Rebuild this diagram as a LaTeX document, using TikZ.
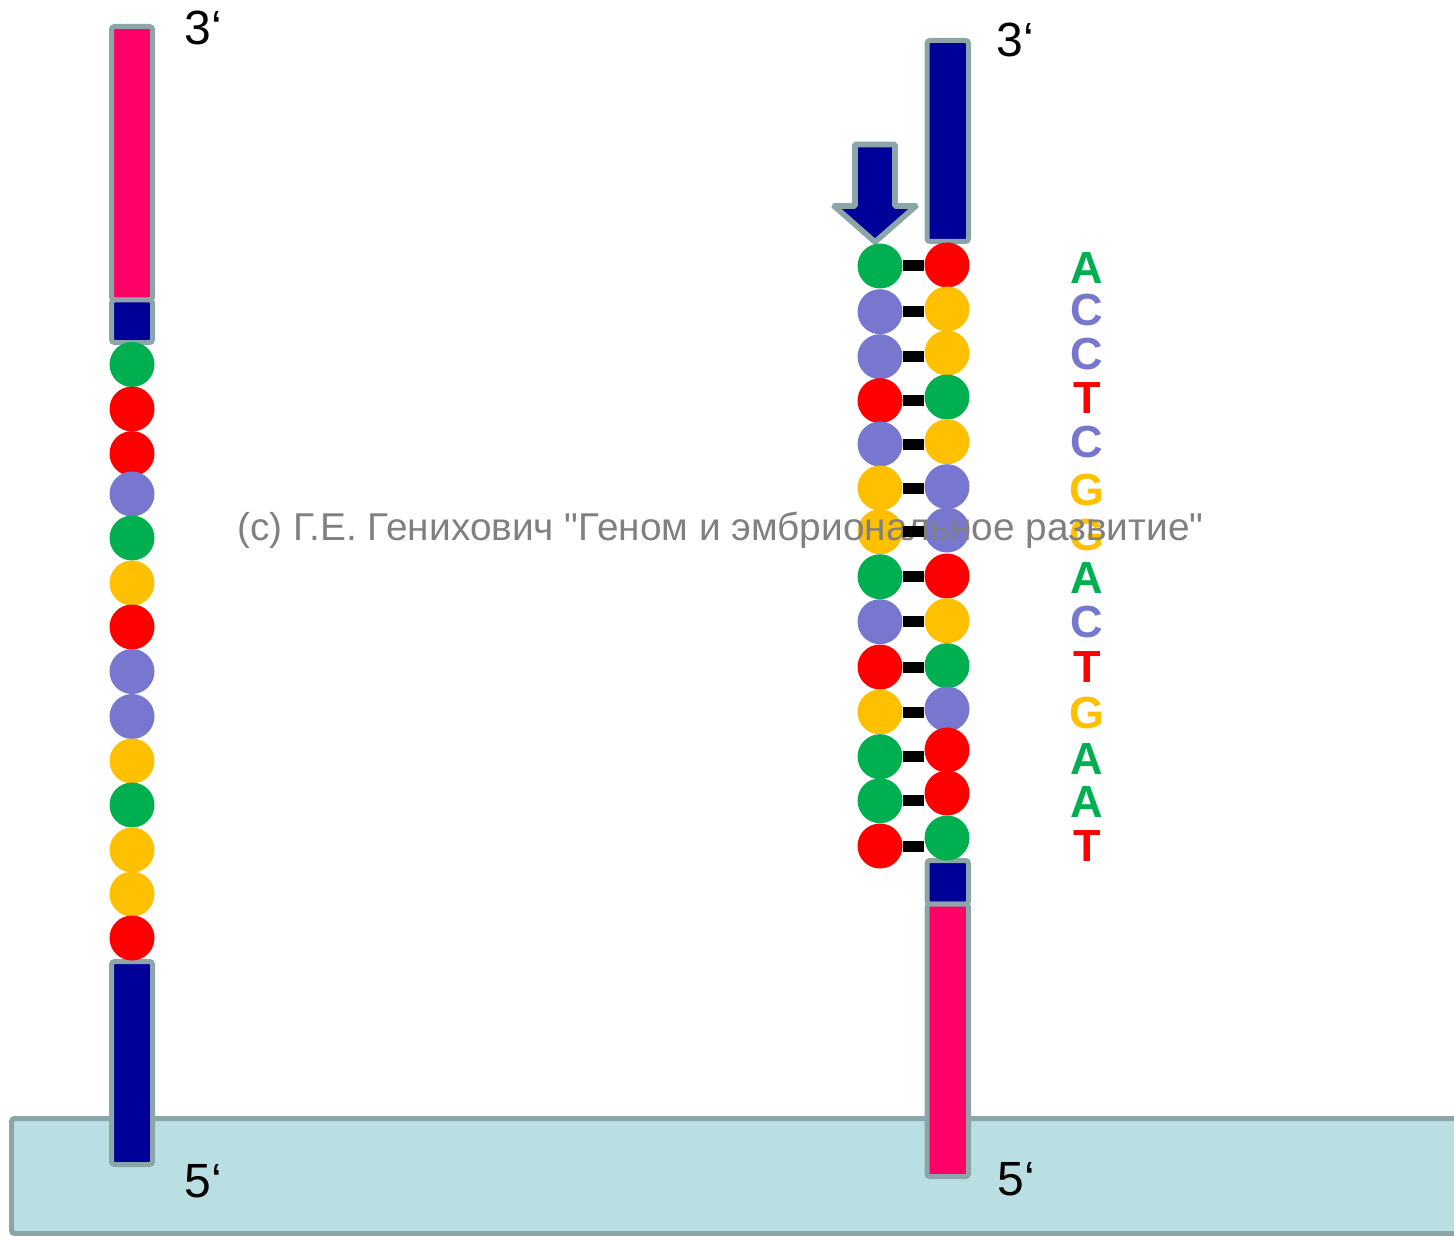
\documentclass[tikz,border=0pt]{standalone}
\usepackage{fontspec}
\setmainfont{Liberation Sans}
\newfontfamily\wmfont{Liberation Sans}[Ligatures=TeXOff]
\definecolor{pinkc}{HTML}{FF0066}
\definecolor{navyc}{HTML}{000099}
\definecolor{grnc}{HTML}{00B050}
\definecolor{redc}{HTML}{FF0000}
\definecolor{lavc}{HTML}{7777D0}
\definecolor{yelc}{HTML}{FFC000}
\definecolor{bordc}{HTML}{8BA5A8}
\definecolor{bandc}{HTML}{B9DFE3}
\definecolor{wmc}{HTML}{808080}
\begin{document}
\begin{tikzpicture}[x=0.5pt,y=-0.5pt,
  seg/.style={draw=bordc, line width=2.5pt, rounded corners=1.5pt},
  bead/.style={circle, minimum size=22.5pt, inner sep=0pt, draw=none},
  bar/.style={line width=5.5pt, black},
  lbl/.style={anchor=base west, inner sep=0pt, font=\fontsize{24}{28}\selectfont},
  base/.style={inner sep=0pt, font=\bfseries\fontsize{22.5}{27}\selectfont}]
\useasboundingbox (0,0) rectangle (1454,1235);
\clip (0,0) rectangle (1454,1235);
% support band
\draw[seg, fill=bandc] (11.5,1118.5) rectangle (1480,1233.5);
% left strand
\draw[seg, fill=pinkc] (111.5,26.5) rectangle (152.5,300);
\draw[seg, fill=navyc] (111.5,300) rectangle (152.5,342.5);
\draw[seg, fill=navyc] (111.5,961.5) rectangle (152.5,1164.5);
% right strand
\draw[seg, fill=navyc] (927,40.5) rectangle (968.5,241.5);
\draw[seg, fill=navyc] (927,860.5) rectangle (968.5,904);
\draw[seg, fill=pinkc] (927,904) rectangle (968.5,1176.5);
% arrow
\draw[seg, line width=2.8pt, fill=navyc, rounded corners=0.5pt, line join=miter]
  (855,144.5) -- (895,144.5) -- (895,206) -- (916,206) -- (875,242)
  -- (834,206) -- (855,206) -- cycle;
% left strand beads
\foreach \y/\c [count=\i] in {364.5/grnc,409/redc,453.6/redc,494/lavc,538/grnc,583/yelc,627/redc,671.5/lavc,716.5/lavc,761/yelc,805/grnc,850/yelc,894/yelc,938/redc}
  \node[bead, fill=\c] (a\i) at (132,\y) {};
% right strand: primer column
\foreach \y/\c [count=\i] in {266/grnc,311.7/lavc,356.7/lavc,400.7/redc,444/lavc,488/yelc,531.7/yelc,576.7/grnc,621.7/lavc,667/redc,712/yelc,756.7/grnc,800.7/grnc,846/redc}
  \node[bead, fill=\c] (l\i) at (880,\y) {};
% right strand: template column
\foreach \y/\c [count=\i] in {265/redc,309/yelc,353/yelc,397/grnc,441.7/yelc,486.7/lavc,530/lavc,576/redc,620.7/yelc,665.7/grnc,709/lavc,750/redc,793/redc,838/grnc}
  \node[bead, fill=\c] (r\i) at (947,\y) {};
% sequence letters
\foreach \y/\t/\c [count=\i] in {268/A/grnc,310/C/lavc,354/C/lavc,398/T/redc,442/C/lavc,490/G/yelc,535/G/yelc,578/A/grnc,622/C/lavc,667/T/redc,713/G/yelc,759/A/grnc,802/A/grnc,846/T/redc}
  \node[base, text=\c] (t\i) at (1087,\y) {\t};
% end labels
\node[lbl] (tl) at (184,45) {3‘};
\node[lbl] (fl) at (184,1197) {5‘};
\node[lbl] (tr) at (996,57) {3‘};
\node[lbl] (fr) at (997,1195) {5‘};
% watermark
\node[anchor=base west, inner sep=0pt, text=wmc, font=\wmfont\fontsize{19.4}{23}\selectfont] (wm) at (237,540) {(c) Г.Е. Генихович "Геном и эмбриональное развитие"};
% base pair bonds
\foreach \i in {1,...,14}
  \draw[bar] (l\i.east) -- (l\i.east -| r\i.west);
\end{tikzpicture}
\end{document}
